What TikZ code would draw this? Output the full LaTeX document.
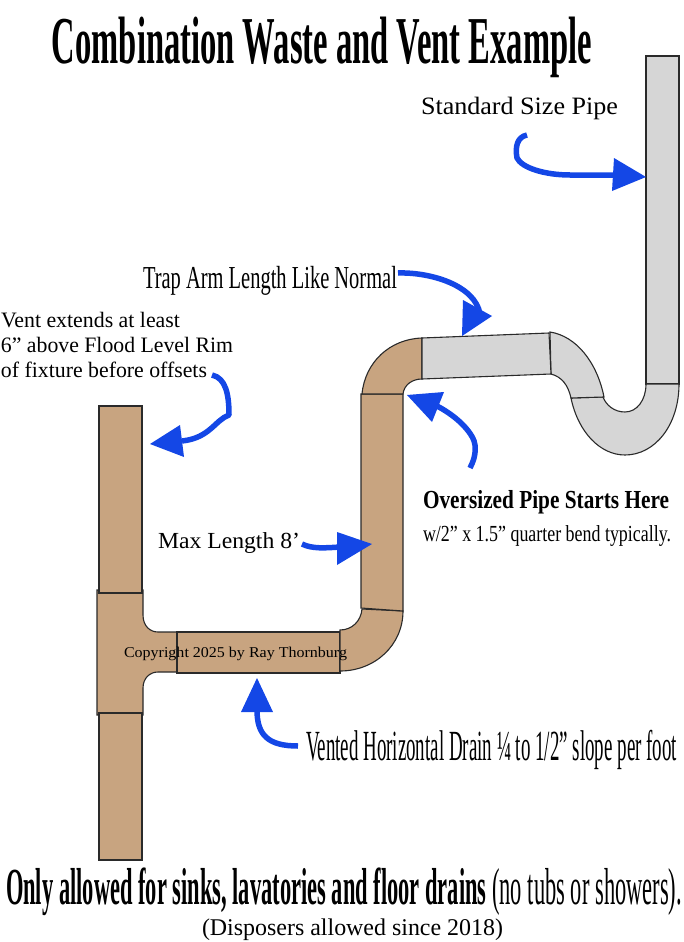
\documentclass[tikz,border=0pt]{standalone}
\usepackage{fontspec}
\usepackage{graphicx}
\setmainfont{Liberation Serif}
\definecolor{pipetan}{HTML}{C8A480}
\definecolor{pipegray}{HTML}{D6D6D6}
\definecolor{arrowblue}{HTML}{1447E6}
\definecolor{pipeline}{HTML}{2A2A2A}
\newcommand{\fitw}[3]{\resizebox{#1pt}{\height}{\fontsize{#2}{#2}\selectfont\strut #3}}
\tikzset{
  tan/.style={fill=pipetan,draw=pipeline,line width=1.1pt,line join=miter},
  gray/.style={fill=pipegray,draw=pipeline,line width=1.1pt,line join=miter},
  stroke/.style={draw=arrowblue,line width=5.5pt,line cap=butt,line join=round},
  head/.style={fill=arrowblue},
  lab/.style={anchor=base west,inner sep=0pt,outer sep=0pt,text=black}
}
\begin{document}
\begin{tikzpicture}[x=1pt,y=-1pt]
\useasboundingbox (0,0) rectangle (683,942);
% pipes, brown
\path[tan] (97,590) -- (143,590) -- (143,615) .. controls (143,626) and (150,632) .. (158,632) -- (177,632) -- (177,672) -- (158,672) .. controls (150,672) and (143,678) .. (143,688) -- (143,715) -- (97,715) -- cycle;
\path[tan] (99,406) rectangle (142,593);
\path[tan] (99,713) rectangle (142,860);
\path[tan] (177,632) rectangle (340,673);
\path[tan] (340,630) .. controls (352,630) and (361,621) .. (362,609) -- (403,611) .. controls (403,645) and (375,671) .. (340,671) -- cycle;
\path[tan] (361,394) -- (403,394) -- (403,611) -- (361,608) -- cycle;
\path[tan] (362,394) .. controls (365,362) and (390,339) .. (422,338) -- (422,379) .. controls (412,379) and (404,385) .. (403,394) -- cycle;
% pipes, grey
\path[gray] (646,56) rectangle (679,384);
\path[gray] (571,398) .. controls (578,432) and (600,455) .. (625,455) .. controls (655,455) and (679,425) .. (679,384) -- (646,384) .. controls (646,400) and (637,412) .. (625,412) .. controls (614,412) and (606,405) .. (603,397) -- cycle;
\path[gray] (550,332) .. controls (576,336) and (597,362) .. (604,397) -- (571,398) .. controls (568,385) and (562,377) .. (551,374) -- cycle;
\path[gray] (422,338) -- (549,333) -- (551,374) -- (422,379) -- cycle;
% labels
\node[lab] (title) at (52,64) {\fitw{540}{67}{\bfseries Combination Waste and Vent Example}};
\node[lab] (std) at (421,114) {\fitw{197}{25}{Standard Size Pipe}};
\node[lab] (trap) at (143,288) {\fitw{254}{32}{Trap Arm Length Like Normal}};
\node[lab] (v1) at (1,327) {\fitw{179}{22}{Vent extends at least}};
\node[lab] (v2) at (1,352) {\fitw{232}{22}{6” above Flood Level Rim}};
\node[lab] (v3) at (1,377) {\fitw{206}{22}{of fixture before offsets}};
\node[lab] (over) at (423,508) {\fitw{246}{26}{\bfseries Oversized Pipe Starts Here}};
\node[lab] (w2) at (423,541) {\fitw{248}{23}{w/2” x 1.5” quarter bend typically.}};
\node[lab] (max) at (158,548) {\fitw{142}{23}{Max Length 8’}};
\node[lab] (copy) at (124,657) {\fitw{223}{15}{Copyright 2025 by Ray Thornburg}};
\node[lab] (vented) at (306,760) {\fitw{371}{43}{Vented Horizontal Drain ¼ to 1/2” slope per foot}};
\node[lab] (only) at (6,904) {\fitw{676}{52}{\textbf{Only allowed for sinks, lavatories and floor drains} (no tubs or showers).}};
\node[lab] (disp) at (202,935) {\fitw{301}{24}{(Disposers allowed since 2018)}};
% arrows
\path[stroke] (527,135) .. controls (517,137) and (515,147) .. (517,158) .. controls (522,168) and (545,175) .. (570,175) -- (614,175);
\path[head] (614,158) -- (646,177) -- (612,191) -- cycle;
\path[stroke] (398,273) .. controls (430,272) and (475,285) .. (480,314);
\path[head] (463,300) -- (492,316) -- (462,336) -- cycle;
\path[stroke] (437,406) .. controls (460,418) and (474,435) .. (475,445) .. controls (476,455) and (473,462) .. (470,468);
\path[head] (407,395) -- (444,392) -- (432,422) -- cycle;
\path[stroke] (212,375) .. controls (226,378) and (229,395) .. (229,415) .. controls (215,420) and (210,438) .. (182,441);
\path[head] (150,444) -- (180,425) -- (184,457) -- cycle;
\path[stroke] (302,544) .. controls (312,549) and (325,548) .. (340,547);
\path[head] (337,532) -- (372,544) -- (337,565) -- cycle;
\path[stroke] (257,710) .. controls (257,735) and (268,746) .. (298,746);
\path[head] (257,678) -- (241,712) -- (273,712) -- cycle;
\end{tikzpicture}
\end{document}
